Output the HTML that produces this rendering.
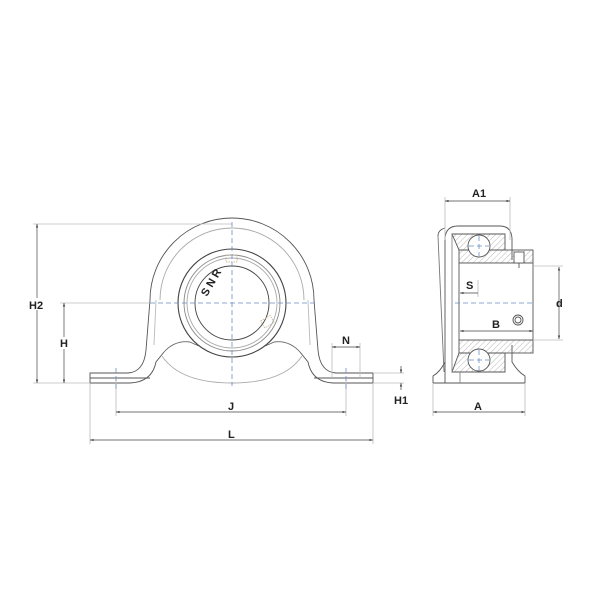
<!DOCTYPE html>
<html><head><style>html,body{margin:0;padding:0;background:#fff}svg{display:block}text{font-family:"Liberation Sans",Arial,sans-serif;font-weight:bold;font-size:11px;fill:#222}</style></head>
<body>
<svg width="600" height="600" viewBox="0 0 600 600" xmlns="http://www.w3.org/2000/svg">
<defs>
<pattern id="h" width="4" height="4" patternUnits="userSpaceOnUse" patternTransform="rotate(45)"><line x1="0" y1="0" x2="0" y2="4" stroke="#999" stroke-width="0.7"/></pattern>
<marker id="a" viewBox="0 0 6 6" refX="6" refY="3" markerWidth="5" markerHeight="5" orient="auto-start-reverse"><path d="M0,1 L6,3 L0,5z" fill="#444"/></marker>
</defs>
<g fill="none" stroke="#555" stroke-width="0.9">
<path d="M150,300 A82,82 0 0 1 314,300 L318,350 Q320,372 336,373 L373,373 L373,383 L333,383 Q312,382 308,362 L300,352 M164,352 L156,362 Q152,382 130,383 L90,383 L90,373 L128,373 Q144,372 146,350 L150,300"/>
<path d="M160,300 A72,72 0 0 1 304,300" stroke="#aaa"/>
<path d="M156,300 L154,345 M308,300 L310,345" stroke="#bbb"/>
<line x1="90" y1="378" x2="150" y2="378"/>
<line x1="314" y1="378" x2="373" y2="378"/>
<path d="M164,352 Q175,340 190,342 Q210,352 232,352 Q254,352 274,342 Q289,340 300,352" stroke="#666"/>
<path d="M162,356 Q180,383 232,383 Q284,383 302,356" stroke="#aaa"/>
<circle cx="232" cy="303" r="54" fill="#fff" stroke="#444" stroke-width="1.1"/>
<circle cx="232" cy="303" r="48" stroke="#888"/>
<circle cx="232" cy="303" r="45" stroke="#aaa"/>
<circle cx="232" cy="303" r="37" stroke="#444"/>
<rect x="226" y="255" width="11" height="7" stroke="#cb9" stroke-dasharray="1.5,1"/>
<rect x="262" y="318" width="11" height="8" stroke="#cb9" stroke-dasharray="1.5,1" transform="rotate(-30 267 322)"/>
</g>
<text x="193" y="297" font-size="9" transform="rotate(-60 200 285)">S N R</text>
<g fill="none" stroke="#555" stroke-width="0.9">
<path d="M445,383 L445,238 Q446,226 458,226 L500,226 Q511,226 512,238 L512,260"/>
<path d="M433,383 L433,376 Q440,372 445,362 M525,383 L525,376 Q518,372 512,362 L512,345"/>
<line x1="433" y1="383" x2="525" y2="383"/>
<path d="M438,236 L444,372" stroke="#777"/>
<path d="M438,236 Q438,230 445,228"/>
<path d="M452,234 L505,234 L505,250 L459,250 Z" fill="url(#h)"/>
<path d="M452,372 L505,372 L505,353 L459,353 Z" fill="url(#h)"/>
<rect x="459" y="250" width="74" height="13" fill="url(#h)"/>
<rect x="459" y="340" width="74" height="13" fill="url(#h)"/>
<rect x="459" y="263" width="74" height="77" fill="#fff"/>
<circle cx="479" cy="246" r="11" fill="#fff"/>
<circle cx="479" cy="360" r="11" fill="#fff"/>
<rect x="514" y="252" width="10" height="11" fill="#fff"/>
<line x1="519" y1="263" x2="519" y2="268"/>
<circle cx="518" cy="320" r="5"/>
<circle cx="518" cy="320" r="3"/>
<path d="M452,234 L452,372 M460,372 L460,383" stroke="#888"/>
</g>
<g fill="none" stroke="#bbb" stroke-width="0.8">
<line x1="33" y1="224" x2="232" y2="224"/>
<line x1="60" y1="303" x2="150" y2="303"/>
<line x1="33" y1="383" x2="90" y2="383"/>
<line x1="90" y1="383" x2="90" y2="444"/>
<line x1="373" y1="383" x2="373" y2="444"/>
<line x1="116" y1="378" x2="116" y2="416"/>
<line x1="346" y1="378" x2="346" y2="416"/>
<line x1="332" y1="343" x2="332" y2="378"/>
<line x1="360" y1="343" x2="360" y2="378"/>
<line x1="373" y1="373" x2="404" y2="373"/>
<line x1="373" y1="383" x2="404" y2="383"/>
<line x1="445" y1="197" x2="445" y2="240"/>
<line x1="510" y1="197" x2="510" y2="240"/>
<line x1="433" y1="383" x2="433" y2="416"/>
<line x1="525" y1="383" x2="525" y2="416"/>
<line x1="533" y1="266" x2="563" y2="266"/>
<line x1="533" y1="340" x2="563" y2="340"/>
<line x1="478" y1="280" x2="478" y2="297"/>
</g>
<g stroke="#6a8fc7" stroke-width="0.8" stroke-dasharray="5,3">
<line x1="232" y1="222" x2="232" y2="386"/>
<line x1="150" y1="303" x2="318" y2="303"/>
<line x1="116" y1="368" x2="116" y2="390"/>
<line x1="346" y1="368" x2="346" y2="390"/>
<line x1="455" y1="303" x2="535" y2="303"/>
<line x1="479" y1="236" x2="479" y2="256"/>
<line x1="469" y1="246" x2="489" y2="246"/>
<line x1="479" y1="350" x2="479" y2="370"/>
<line x1="469" y1="360" x2="489" y2="360"/>
</g>
<g stroke="#444" stroke-width="0.7" fill="none">
<line x1="37" y1="224" x2="37" y2="383" marker-start="url(#a)" marker-end="url(#a)"/>
<line x1="64" y1="303" x2="64" y2="383" marker-start="url(#a)" marker-end="url(#a)"/>
<line x1="116" y1="412" x2="346" y2="412" marker-start="url(#a)" marker-end="url(#a)"/>
<line x1="90" y1="440" x2="373" y2="440" marker-start="url(#a)" marker-end="url(#a)"/>
<line x1="332" y1="347" x2="360" y2="347" marker-start="url(#a)" marker-end="url(#a)"/>
<line x1="401" y1="366" x2="401" y2="373" marker-end="url(#a)"/>
<line x1="401" y1="390" x2="401" y2="383" marker-end="url(#a)"/>
<line x1="445" y1="201" x2="510" y2="201" marker-start="url(#a)" marker-end="url(#a)"/>
<line x1="433" y1="412" x2="525" y2="412" marker-start="url(#a)" marker-end="url(#a)"/>
<line x1="559" y1="267" x2="559" y2="339" marker-start="url(#a)" marker-end="url(#a)"/>
<line x1="460" y1="293" x2="478" y2="293" marker-start="url(#a)"/>
<line x1="460" y1="331" x2="533" y2="331" marker-start="url(#a)" marker-end="url(#a)"/>
</g>
<g fill="#fff"><rect x="29" y="298" width="16" height="12"/><rect x="58" y="337" width="12" height="12"/><rect x="489" y="319" width="11" height="11"/></g>
<text x="29" y="309">H2</text>
<text x="60" y="347">H</text>
<text x="228" y="410">J</text>
<text x="228" y="438">L</text>
<text x="342" y="344">N</text>
<text x="394" y="404">H1</text>
<text x="472" y="197">A1</text>
<text x="474" y="410">A</text>
<text x="466" y="289">S</text>
<text x="492" y="328">B</text>
<text x="556" y="307">d</text>
</svg>
</body></html>
